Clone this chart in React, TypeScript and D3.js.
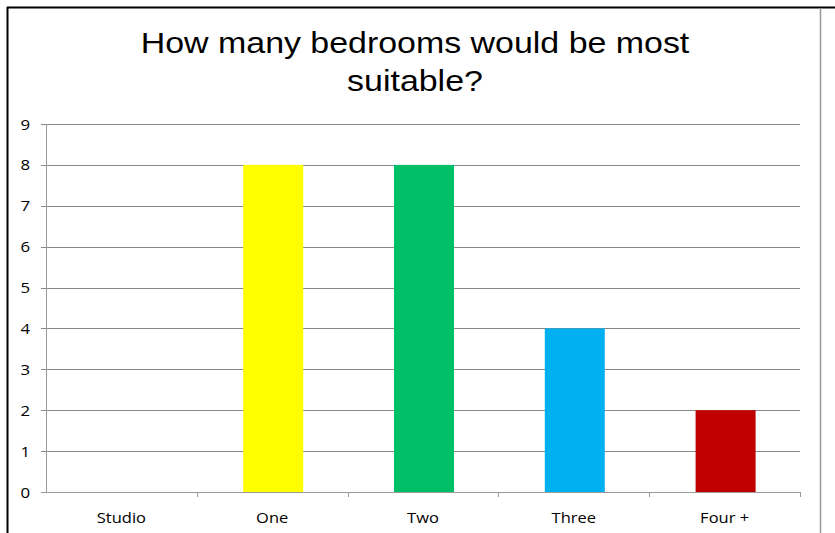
import React from "react";
import * as d3 from "d3";

const categories = ["Studio", "One", "Two", "Three", "Four +"];
const values = [0, 8, 8, 4, 2];
const barColors = ["#4F81BD", "#FFFF00", "#00BF66", "#00B0F0", "#C00000"];
const yTicks = [0, 1, 2, 3, 4, 5, 6, 7, 8, 9];
const titleLines = ["How many bedrooms would be most", "suitable?"];

export default function App() {
  const W = 835, H = 533;
  const left = 46, right = 800, top = 124, bottom = 492;
  const xb = d3.scaleBand().domain(categories).range([left, right]);
  const y = d3.scaleLinear().domain([0, 9]).range([bottom, top]);
  const axisFont = "'Open Sans', 'Liberation Sans', sans-serif";
  const sx = 1.17;
  return (
    <svg width={W} height={H} style={{ position: "absolute", left: 0, top: 0 }}>
      <rect x={0} y={0} width={W} height={H} fill="#fff" />
      <line x1={7} x2={835} y1={7.5} y2={7.5} stroke="#000" strokeWidth={2} />
      <line x1={7.5} x2={7.5} y1={7} y2={533} stroke="#000" strokeWidth={2} />
      <line x1={820.5} x2={820.5} y1={8} y2={533} stroke="#999" strokeWidth={1.5} />
      {titleLines.map((t, i) => (
        <text key={t} transform={`translate(415,${53 + i * 38}) scale(${sx},1)`} textAnchor="middle" fontFamily="'Liberation Sans', Arial, sans-serif" fontSize={29} fill="#000">{t}</text>
      ))}
      {yTicks.map((v) => (
        <g key={v}>
          <line x1={left - 5} x2={right} y1={Math.round(y(v)) + 0.5} y2={Math.round(y(v)) + 0.5} stroke={v === 0 ? "#999" : "#888"} strokeWidth={1} />
          <text transform={`translate(30,${y(v) + 5.5}) scale(1.12,1)`} textAnchor="end" fontFamily={axisFont} fontSize={15} fill="#000">{v}</text>
        </g>
      ))}
      <line x1={left + 0.5} x2={left + 0.5} y1={top} y2={bottom} stroke="#999" />
      {categories.map((c, i) => (
        <g key={c}>
          <line x1={Math.round(xb(c)! + xb.bandwidth()) + 0.5} x2={Math.round(xb(c)! + xb.bandwidth()) + 0.5} y1={bottom} y2={bottom + 5} stroke="#999" />
          <text transform={`translate(${xb(c)! + xb.bandwidth() / 2},523) scale(1.1,1)`} textAnchor="middle" fontFamily={axisFont} fontSize={15} fill="#000">{c}</text>
          {values[i] > 0 && (
            <rect x={xb(c)! + xb.bandwidth() / 2 - 29} y={y(values[i])} width={60} height={y(0) - y(values[i])} fill={barColors[i]} />
          )}
        </g>
      ))}
    </svg>
  );
}
